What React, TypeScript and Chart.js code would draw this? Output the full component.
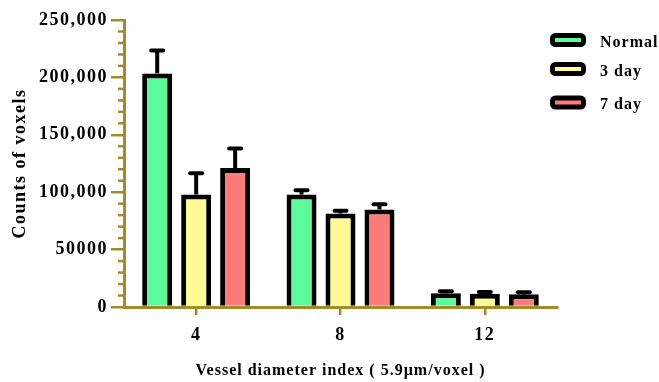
import React, { useEffect, useRef } from 'react';
import { Chart, registerables } from 'chart.js';

Chart.register(...registerables);

const categories = ['4', '8', '12'];
const seriesNames = ['Normal', '3 day', '7 day'];
const normalMeans = [203500, 98000, 12000];
const normalErrors = [20000, 3700, 1700];
const day3Means = [98000, 81500, 11500];
const day3Errors = [18500, 2400, 1500];
const day7Means = [121000, 85000, 11000];
const day7Errors = [17000, 4500, 1800];
const yTickValues = [0, 50000, 100000, 150000, 200000, 250000];
const yTickLabels = ['0', '50000', '100,000', '150,000', '200,000', '250,000'];
const yMinorStep = 10000;
const xTitle = 'Vessel diameter index ( 5.9\u00b5m/voxel )';
const yTitle = 'Counts of voxels';

const colors = ['#5CFA9B', '#FFFA96', '#FF7B7A'];
const gold = '#A48A2C';
const FONT = "'Liberation Serif', 'Times New Roman', serif";
const legendRows = [40, 69, 102.5];

const means = [normalMeans, day3Means, day7Means];
const errors = [normalErrors, day3Errors, day7Errors];

const spacingPlugin = {
  id: 'spacing',
  beforeDraw(chart: any) {
    chart.ctx.letterSpacing = '1.5px';
  },
  afterDatasetsDraw(chart: any) {
    const ctx = chart.ctx;
    const yScale = chart.scales.y;
    ctx.save();
    ctx.strokeStyle = '#000';
    ctx.lineWidth = 4;
    means.forEach((_, i) => {
      const meta = chart.getDatasetMeta(i);
      meta.data.forEach((bar: any, j: number) => {
        const x = bar.x;
        const yTop = bar.y;
        const yErr = yScale.getPixelForValue(means[i][j] + errors[i][j]);
        ctx.lineCap = 'butt';
        ctx.beginPath();
        ctx.moveTo(x, yTop);
        ctx.lineTo(x, yErr);
        ctx.stroke();
        ctx.lineCap = 'round';
        ctx.beginPath();
        ctx.moveTo(x - 6, yErr);
        ctx.lineTo(x + 6, yErr);
        ctx.stroke();
      });
    });
    // minor ticks on y axis
    ctx.strokeStyle = gold;
    ctx.lineWidth = 2.5;
    ctx.lineCap = 'butt';
    const xAxis = chart.chartArea.left;
    for (let v = 0; v <= yScale.max; v += yMinorStep) {
      if (yTickValues.includes(v)) continue;
      const py = yScale.getPixelForValue(v);
      ctx.beginPath();
      ctx.moveTo(xAxis - 6, py);
      ctx.lineTo(xAxis, py);
      ctx.stroke();
    }
    ctx.restore();
    ctx.letterSpacing = '1px';
  },
  afterDraw(chart: any) {
    const ctx = chart.ctx;
    ctx.save();
    ctx.letterSpacing = '1px';
    seriesNames.forEach((name, i) => {
      const cy = legendRows[i];
      ctx.beginPath();
      ctx.roundRect(552.5, cy - 4.5, 31, 9, 3);
      ctx.fillStyle = colors[i];
      ctx.fill();
      ctx.lineWidth = 5;
      ctx.strokeStyle = '#000';
      ctx.stroke();
      ctx.fillStyle = '#000';
      ctx.font = `bold 16px ${FONT}`;
      ctx.textBaseline = 'alphabetic';
      ctx.textAlign = 'left';
      ctx.fillText(name, 600, cy + 6.5);
    });
    ctx.restore();
    ctx.letterSpacing = '0px';
  },
};

export default function App() {
  const ref = useRef<HTMLCanvasElement>(null);
  useEffect(() => {
    const canvas = ref.current!;
    const chart = new Chart(canvas, {
      type: 'bar',
      data: {
        labels: categories,
        datasets: seriesNames.map((name, i) => ({
          label: name,
          data: means[i],
          backgroundColor: colors[i],
          borderColor: '#000',
          borderWidth: 5,
          borderSkipped: 'start',
          barPercentage: 0.77,
          categoryPercentage: 0.81,
        })),
      },
      options: {
        responsive: false,
        animation: false,
        devicePixelRatio: 1,
        layout: { padding: { left: 0, right: 102, top: 20, bottom: 0 } },
        plugins: { legend: { display: false }, tooltip: { enabled: false } },
        scales: {
          x: {
            grid: {
              display: true,
              drawOnChartArea: false,
              drawTicks: true,
              tickLength: 8,
              color: gold,
              lineWidth: 2.5,
              offset: false,
              z: 1,
            },
            border: { display: true, color: gold, width: 3, z: 1 },
            ticks: {
              color: '#000',
              font: { family: FONT, size: 18, weight: 'bold' },
              padding: 10,
            },
            title: {
              display: true,
              text: xTitle,
              color: '#000',
              font: { family: FONT, size: 16, weight: 'bold' },
              padding: { top: 0, bottom: 2 },
            },
            afterFit: (s: any) => {
              s.height = 75;
            },
          },
          y: {
            min: 0,
            max: 250000,
            afterBuildTicks: (s: any) => {
              s.ticks = yTickValues.map((v) => ({ value: v }));
            },
            grid: {
              drawOnChartArea: false,
              drawTicks: true,
              tickLength: 13,
              color: gold,
              lineWidth: 2.5,
            },
            border: { display: true, color: gold, width: 3 },
            ticks: {
              color: '#000',
              font: { family: FONT, size: 18, weight: 'bold' },
              padding: 3,
              callback: (v: any) => {
                const idx = yTickValues.indexOf(Number(v));
                return idx >= 0 ? yTickLabels[idx] : '';
              },
            },
            title: {
              display: true,
              text: yTitle,
              color: '#000',
              font: { family: FONT, size: 18, weight: 'bold' },
              padding: { top: 10, bottom: 0 },
            },
            afterFit: (s: any) => {
              s.width = 124;
            },
          },
        },
      } as any,
      plugins: [spacingPlugin],
    });
    return () => chart.destroy();
  }, []);
  return (
    <div style={{ position: 'absolute', left: 0, top: 0, width: 659, height: 382, background: '#fff' }}>
      <canvas ref={ref} width={659} height={382} style={{ display: 'block', width: 659, height: 382 }} />
    </div>
  );
}
